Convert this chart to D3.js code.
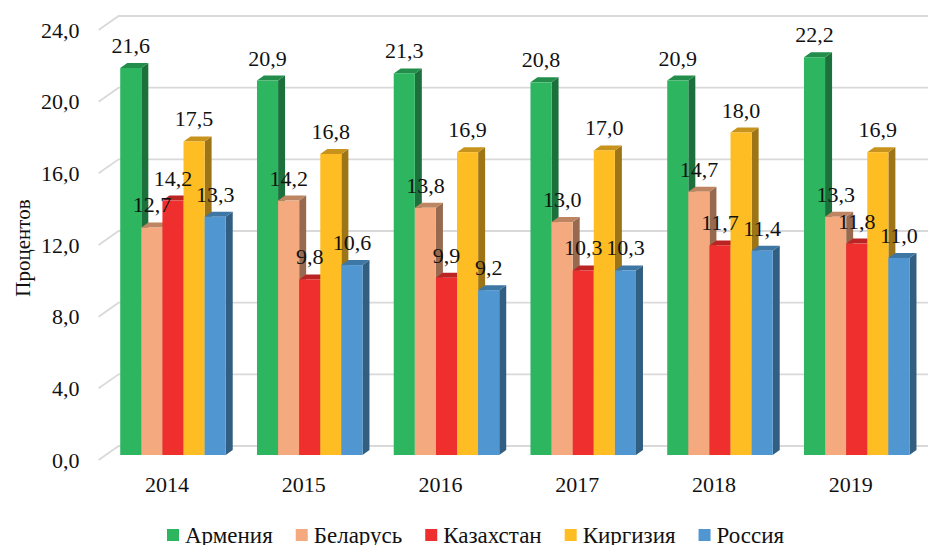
<!DOCTYPE html>
<html lang="ru">
<head>
<meta charset="UTF-8">
<title>Проценты по странам</title>
<script src="https://d3js.org/d3.v7.min.js"></script>
<style>
    html, body { margin: 0; padding: 0; background: #fff; overflow: hidden; }
    svg { display: block; font-family: "Liberation Serif", serif; fill: #111; }
    .axis path, .axis line { display: none; }
    .axis text { font-family: "Liberation Serif", serif; font-size: 22px; fill: #111; }
</style>
</head>
<body>
<div id="chart"></div>
<script>
const years = ["2014", "2015", "2016", "2017", "2018", "2019"];
const countries = ["Армения", "Беларусь", "Казахстан", "Киргизия", "Россия"];
const armenia = [21.6, 20.9, 21.3, 20.8, 20.9, 22.2];
const belarus = [12.7, 14.2, 13.8, 13.0, 14.7, 13.3];
const kazakhstan = [14.2, 9.8, 9.9, 10.3, 11.7, 11.8];
const kyrgyzstan = [17.5, 16.8, 16.9, 17.0, 18.0, 16.9];
const russia = [13.3, 10.6, 9.2, 10.3, 11.4, 11.0];
const yTicks = [0, 4, 8, 12, 16, 20, 24];
const colors = ["#2db560", "#f4aa7e", "#ef2f2e", "#ffbd24", "#5097d2"];
const series = [armenia, belarus, kazakhstan, kyrgyzstan, russia];

const width = 928, height = 545;
const svg = d3.select("#chart").append("svg").attr("width", width).attr("height", height);

// front plane of the 3d box, the back wall is shifted by wall*
const x = d3.scaleBand().domain(years).range([98.6, 919.1]);
const y = d3.scaleLinear().domain([0, 24]).range([460, 30]);
const groupW = 105.5;
const inner = d3.scaleBand().domain(d3.range(5)).range([0, groupW]);
const wallX = 20, wallY = -14;
// bars stand in the middle of the floor depth
const barX = (x.bandwidth() - groupW) / 2 + 6, barY = -5, depthX = 7, depthY = -5;

const comma = d => d.toFixed(1).replace(".", ",");

// grid
const grid = svg.append("g").attr("fill", "none").attr("stroke", "#d9d9d9").attr("stroke-width", 1.8);
grid.selectAll("path").data(yTicks).join("path")
    .attr("d", d => `M${x.range()[0]},${y(d)}L${x.range()[0] + wallX},${y(d) + wallY}L${width},${y(d) + wallY}`);

// bars, left to right so the next face covers the previous side
const bars = svg.append("g");
years.forEach((yr, i) => {
    series.forEach((vals, s) => {
        const x0 = x(yr) + barX + inner(s), x1 = x0 + inner.bandwidth();
        const top = y(vals[i]) + barY, bot = y(0) + barY;
        const c = d3.color(colors[s]);
        const g = bars.append("g");
        g.append("path")
            .attr("fill", d3.rgb(c.r * 0.62, c.g * 0.62, c.b * 0.62))
            .attr("d", `M${x1},${top}L${x1 + depthX},${top + depthY}L${x1 + depthX},${bot + depthY}L${x1},${bot}Z`);
        g.append("path")
            .attr("fill", d3.rgb(c.r * 0.78, c.g * 0.78, c.b * 0.78))
            .attr("d", `M${x0},${top}L${x0 + depthX},${top + depthY}L${x1 + depthX},${top + depthY}L${x1},${top}Z`);
        g.append("rect")
            .attr("x", x0).attr("y", top)
            .attr("width", x1 - x0).attr("height", bot - top)
            .attr("fill", colors[s]);
    });
});

// value labels
const labels = svg.append("g").attr("font-size", 22).attr("text-anchor", "middle");
years.forEach((yr, i) => {
    series.forEach((vals, s) => {
        labels.append("text")
            .attr("x", x(yr) + barX + inner(s) + inner.bandwidth() / 2)
            .attr("y", y(vals[i]) + barY - 15)
            .text(comma(vals[i]));
    });
});

// axes
svg.append("g").attr("class", "axis")
    .attr("transform", `translate(${x.range()[0] - 11},0)`)
    .call(d3.axisLeft(y).tickValues(yTicks).tickFormat(comma).tickSize(0).tickPadding(8));
svg.append("g").attr("class", "axis")
    .attr("transform", `translate(0,${y(0)})`)
    .call(d3.axisBottom(x).tickSize(0).tickPadding(16));

svg.append("text")
    .attr("transform", "translate(30,248) rotate(-90)")
    .attr("text-anchor", "middle").attr("font-size", 21)
    .text("Процентов");

// legend
let lx = 167;
const legend = svg.append("g").attr("font-size", 23);
countries.forEach((name, i) => {
    legend.append("rect").attr("x", lx).attr("y", 529).attr("width", 12).attr("height", 12).attr("fill", colors[i]);
    const t = legend.append("text").attr("x", lx + 18).attr("y", 543).text(name);
    lx += 18 + t.node().getComputedTextLength() + 23;
});
</script>
</body>
</html>
